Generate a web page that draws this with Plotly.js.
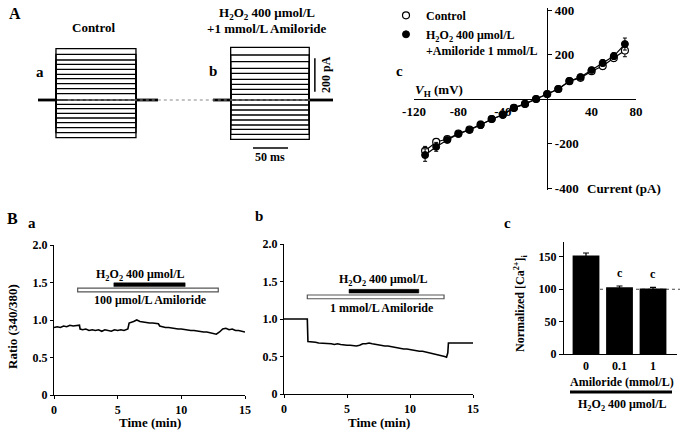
<!DOCTYPE html>
<html><head><meta charset="utf-8">
<script src="https://cdn.plot.ly/plotly-3.0.1.min.js"></script>
<style>html,body{margin:0;padding:0;background:#fff}#chart{width:685px;height:434px}</style>
</head><body><div id="chart"></div>
<script>
// ---------- DATA ----------
// Panel A a/b: whole-cell current step levels (pA)
const ctrlLevels = [308,274,240,214,184,154,128,98,68,38,0,-26,-52,-80,-108,-136,-166,-196,-226];
const amilLevels = [316,270,230,190,160,124,94,64,34,0,-30,-60,-90,-120,-150,-176,-206,-236];
// timing (ms): baseline start, step on, step off, baseline end
const ctrlTiming = [11.4, 37.1, 151.4, 182.9];
const amilTiming = [261.4, 286.7, 399.0, 432.9];

// Panel A c: I-V relation
const voltages = [-110,-100,-90,-80,-70,-60,-50,-40,-30,-20,-10,0,10,20,30,40,50,60,70];
const ivControl = [-233,-193,-180,-155,-137,-115,-90,-70,-40,-22,0,22,45,80,95,125,148,184,218];
const ivControlErr = [20,15,10,10,10,15,8,8,8,6,6,6,6,8,8,10,15,15,28];
const ivAmil = [-252,-215,-184,-157,-139,-117,-90,-72,-40,-22,0,22,45,81,99,130,162,193,247];
const ivAmilErr = [28,20,10,12,10,15,8,8,8,6,6,6,6,8,8,10,15,15,27];

// Panel B a: ratio trace, 100 umol/L amiloride
const timeA = [0,0.25,0.5,0.75,1,1.25,1.5,1.75,2,2.05,2.25,2.5,2.75,3,3.25,3.5,3.75,4,4.25,4.5,4.75,5,5.25,5.5,5.8,5.9,6.25,6.5,6.75,7,7.25,7.5,7.75,8,8.2,8.3,8.5,8.75,9,9.25,9.5,9.75,10,10.25,10.5,10.75,11,11.25,11.5,11.75,12,12.25,12.5,12.75,13,13.25,13.5,13.75,14,14.25,14.5,14.75,15];
const ratioA = [0.90,0.91,0.90,0.92,0.91,0.93,0.92,0.93,0.93,0.88,0.87,0.88,0.86,0.87,0.86,0.87,0.85,0.87,0.86,0.85,0.87,0.86,0.87,0.86,0.88,0.96,0.98,1.00,0.98,0.97,0.97,0.96,0.96,0.95,0.95,0.92,0.91,0.90,0.90,0.89,0.89,0.88,0.88,0.87,0.87,0.86,0.86,0.85,0.85,0.84,0.84,0.83,0.82,0.81,0.84,0.88,0.89,0.87,0.88,0.86,0.86,0.85,0.84];
const treatA = {h2o2:[4.7,10.3], amil:[1.86,12.9]};

// Panel B b: ratio trace, 1 mmol/L amiloride
const timeB = [0,0.25,0.5,0.75,1,1.25,1.5,1.75,1.85,1.9,2,2.25,2.5,2.75,3,3.25,3.5,3.75,4,4.25,4.5,4.75,5,5.25,5.5,5.75,6,6.25,6.5,6.75,7,7.25,7.5,7.75,8,8.25,8.5,8.75,9,9.25,9.5,9.75,10,10.25,10.5,10.75,11,11.25,11.5,11.75,12,12.25,12.5,12.75,12.9,13,13.05,13.25,13.5,13.75,14,14.25,14.5,14.75,15];
const ratioB = [1.00,1.00,0.99,1.00,1.00,0.99,1.00,1.00,1.00,0.70,0.70,0.69,0.69,0.68,0.68,0.67,0.67,0.67,0.66,0.67,0.66,0.65,0.65,0.65,0.64,0.64,0.65,0.67,0.67,0.68,0.67,0.66,0.66,0.65,0.64,0.64,0.63,0.62,0.62,0.61,0.60,0.60,0.59,0.58,0.58,0.57,0.57,0.56,0.56,0.55,0.54,0.53,0.52,0.50,0.49,0.55,0.68,0.68,0.68,0.68,0.68,0.68,0.68,0.68,0.68];
const treatB = {h2o2:[5.16,10.7], amil:[1.85,12.7]};

// Panel B c: normalized [Ca2+]i
const amilConc = ["0","0.1","1"];
const caMean = [152,103,101];
const caSem = [4,2,2];
const caSig = ["","c","c"];

// ---------- helpers ----------
const W=685,H=434;
const px=x=>x/W, py=y=>1-y/H;
const xd=(a,b)=>[a/W,b/W], yd=(t,b)=>[1-b/H,1-t/H];
const FONT='Liberation Serif';

function stepTrace(levels,timing,name){
  const x=[],y=[];
  levels.forEach(L=>{x.push(timing[1],timing[1],timing[2],timing[2],null);y.push(0,L,L,0,null);});
  return {x,y,xaxis:'x',yaxis:'y',mode:'lines',line:{color:'#000',width:1.3},showlegend:false,hoverinfo:'skip',name};
}
function baseTrace(timing){
  return {x:[timing[0],timing[1],null,timing[2],timing[3]],y:[0,0,null,0,0],xaxis:'x',yaxis:'y',mode:'lines',
    line:{color:'#000',width:2.8},showlegend:false,hoverinfo:'skip'};
}

const traces=[
  stepTrace(ctrlLevels,ctrlTiming,'ctrl'), baseTrace(ctrlTiming),
  stepTrace(amilLevels,amilTiming,'amil'), baseTrace(amilTiming),
  // IV lines
  {x:voltages,y:ivControl,xaxis:'x2',yaxis:'y2',mode:'lines',line:{color:'#000',width:1.2},showlegend:false,hoverinfo:'skip'},
  {x:voltages,y:ivAmil,xaxis:'x2',yaxis:'y2',mode:'lines',line:{color:'#000',width:1.2},showlegend:false,hoverinfo:'skip'},
  {x:voltages,y:ivControl,xaxis:'x2',yaxis:'y2',mode:'markers',name:'Control',
   marker:{symbol:'circle',size:7,color:'#fff',line:{color:'#000',width:1.2}},
   error_y:{type:'data',array:ivControlErr,color:'#000',thickness:1,width:2}},
  {x:voltages,y:ivAmil,xaxis:'x2',yaxis:'y2',mode:'markers',name:'H<sub>2</sub>O<sub>2</sub> 400 μmol/L<br>+Amiloride 1 mmol/L',
   marker:{symbol:'circle',size:7,color:'#000',line:{color:'#000',width:1}},
   error_y:{type:'data',array:ivAmilErr,color:'#000',thickness:1,width:2}},
  // B a, B b
  {x:timeA,y:ratioA,xaxis:'x3',yaxis:'y3',mode:'lines',line:{color:'#000',width:1.6},showlegend:false},
  {x:timeB,y:ratioB,xaxis:'x4',yaxis:'y4',mode:'lines',line:{color:'#000',width:1.6},showlegend:false},
  // B c
  {x:[0,1,2],y:caMean,xaxis:'x5',yaxis:'y5',type:'bar',width:0.8,marker:{color:'#000'},showlegend:false,
   error_y:{type:'data',array:caSem,color:'#000',thickness:1.2,width:3}}
];

const axBase={showgrid:false,zeroline:false,showline:true,linecolor:'#000',linewidth:1.2,ticks:'outside',ticklen:3,tickcolor:'#000',
  tickfont:{family:FONT,size:12,color:'#000',weight:'bold'}};

const shapes=[
  // dotted baseline reference across A a/b
  {type:'line',xref:'x',yref:'y',x0:54,x1:400,y0:0,y1:0,line:{color:'#888',width:1,dash:'dot'}},
  // scale bars
  {type:'line',xref:'x',yref:'y',x0:407,x1:407,y0:50,y1:250,line:{color:'#000',width:1.5}},
  {type:'line',xref:'x',yref:'y',x0:318.6,x1:368.6,y0:-288,y1:-288,line:{color:'#000',width:1.5}},
  // treatment bars B a
  {type:'rect',xref:'x3',yref:'y3',x0:treatA.amil[0],x1:treatA.amil[1],y0:1.375,y1:1.425,fillcolor:'#fff',line:{color:'#555',width:1.2}},
  {type:'rect',xref:'x3',yref:'y3',x0:treatA.h2o2[0],x1:treatA.h2o2[1],y0:1.445,y1:1.495,fillcolor:'#000',line:{color:'#000',width:0.5}},
  // treatment bars B b
  {type:'rect',xref:'x4',yref:'y4',x0:treatB.amil[0],x1:treatB.amil[1],y0:1.27,y1:1.32,fillcolor:'#fff',line:{color:'#555',width:1.2}},
  {type:'rect',xref:'x4',yref:'y4',x0:treatB.h2o2[0],x1:treatB.h2o2[1],y0:1.345,y1:1.395,fillcolor:'#000',line:{color:'#000',width:0.5}},
  // B c dotted 100 line
  {type:'line',xref:'paper',yref:'y5',x0:px(600),x1:px(680),y0:100,y1:100,line:{color:'#444',width:1,dash:'dot'},layer:'below'},
  // B c H2O2 bar under axis title
  {type:'line',xref:'paper',yref:'paper',x0:px(570),x1:px(672),y0:py(392),y1:py(392),line:{color:'#000',width:3}}
];

function ann(text,x,y,o={}){
  return Object.assign({text,x:px(x),y:py(y),xref:'paper',yref:'paper',showarrow:false,xanchor:'center',yanchor:'middle',
    font:{family:FONT,size:o.size||12,color:'#000',weight:'bold'}},o.extra||{});
}
const annotations=[
  ann('A',15,13,{size:16}),
  ann('Control',93,28,{size:13}),
  ann('H<sub>2</sub>O<sub>2</sub> 400 μmol/L',267,13,{size:13}),
  ann('+1 mmol/L Amiloride',267,29,{size:13}),
  ann('a',40,72,{size:15}),
  ann('b',213,71,{size:15}),
  ann('200 pA',326,75,{size:12,extra:{textangle:-90}}),
  ann('50 ms',270,157,{size:12}),
  ann('c',400,71,{size:15}),
  ann('<i>V</i><sub>H</sub> (mV)',413,90,{size:13,extra:{xanchor:'left'}}),
  ann('Current (pA)',585,188,{size:13,extra:{xanchor:'left'}}),
  ann('B',12,218,{size:16}),
  ann('a',32,223,{size:15}),
  ann('b',259,216,{size:15}),
  ann('c',507,223,{size:15}),
  ann('Ratio (340/380)',12,327,{size:13,extra:{textangle:-90}}),
  ann('Time (min)',150,422,{size:13}),
  ann('Time (min)',379,422,{size:13}),
  ann('H<sub>2</sub>O<sub>2</sub> 400 μmol/L',140,275,{size:12}),
  ann('100 μmol/L Amiloride',150,300,{size:12}),
  ann('H<sub>2</sub>O<sub>2</sub> 400 μmol/L',383,280,{size:12}),
  ann('1 mmol/L Amiloride',382,308,{size:12}),
  ann('Normalized [Ca<sup>2+</sup>]<sub>i</sub>',520,303,{size:12,extra:{textangle:-90}}),
  ann('Amiloride (mmol/L)',622,382,{size:12}),
  ann('H<sub>2</sub>O<sub>2</sub> 400 μmol/L',622,405,{size:12})
];
caSig.forEach((s,i)=>{ if(s) annotations.push({text:s,x:i,y:caMean[i]+caSem[i],xref:'x5',yref:'y5',showarrow:false,yanchor:'bottom',yshift:4,
  font:{family:FONT,size:12,color:'#000',weight:'bold'}});});

const layout={
  width:W,height:H,margin:{l:0,r:0,t:0,b:0},paper_bgcolor:'#fff',plot_bgcolor:'rgba(0,0,0,0)',
  font:{family:FONT,size:12,color:'#000',weight:'bold'},
  showlegend:true,
  legend:{x:px(386),y:py(1),xanchor:'left',yanchor:'top',bgcolor:'rgba(0,0,0,0)',font:{family:FONT,size:12,color:'#000',weight:'bold'},
    valign:'top',tracegroupgap:0,itemwidth:30},
  xaxis:{domain:xd(30,340),range:[0,442.9],visible:false,anchor:'y'},
  yaxis:{domain:yd(40,150),range:[-300,360],visible:false,anchor:'x'},
  xaxis2:Object.assign({},axBase,{domain:xd(414,636),range:[-120,80],anchor:'free',position:py(99),
    tickvals:[-120,-80,-40,40,80],ticktext:['-120','-80','-40','40','80'],ticks:'',tickfont:{family:FONT,size:13,color:'#000',weight:'bold'}}),
  yaxis2:Object.assign({},axBase,{domain:yd(8,190),range:[-409,409],anchor:'free',position:px(547),side:'right',
    tickvals:[-400,-200,200,400],ticktext:['-400','-200','200','400'],ticklen:4,tickfont:{family:FONT,size:13,color:'#000',weight:'bold'}}),
  xaxis3:Object.assign({},axBase,{domain:xd(54,245),range:[0,15],anchor:'y3',tickvals:[0,5,10,15]}),
  yaxis3:Object.assign({},axBase,{domain:yd(245,395),range:[0,2],anchor:'x3',tickvals:[0,0.5,1,1.5,2],ticktext:['0','0.5','1.0','1.5','2.0']}),
  xaxis4:Object.assign({},axBase,{domain:xd(284,473),range:[0,15],anchor:'y4',tickvals:[0,5,10,15]}),
  yaxis4:Object.assign({},axBase,{domain:yd(244,394),range:[0,2],anchor:'x4',tickvals:[0,0.5,1,1.5,2],ticktext:['0','0.5','1.0','1.5','2.0']}),
  xaxis5:Object.assign({},axBase,{domain:xd(564,677),range:[-0.657,2.716],anchor:'y5',tickvals:[0,1,2],ticktext:amilConc,ticks:''}),
  yaxis5:Object.assign({},axBase,{domain:yd(242,354),range:[0,173],anchor:'x5',tickvals:[0,50,100,150],ticklen:4}),
  shapes,annotations
};
Plotly.newPlot('chart',traces,layout,{staticPlot:true,displayModeBar:false});
</script></body></html>
